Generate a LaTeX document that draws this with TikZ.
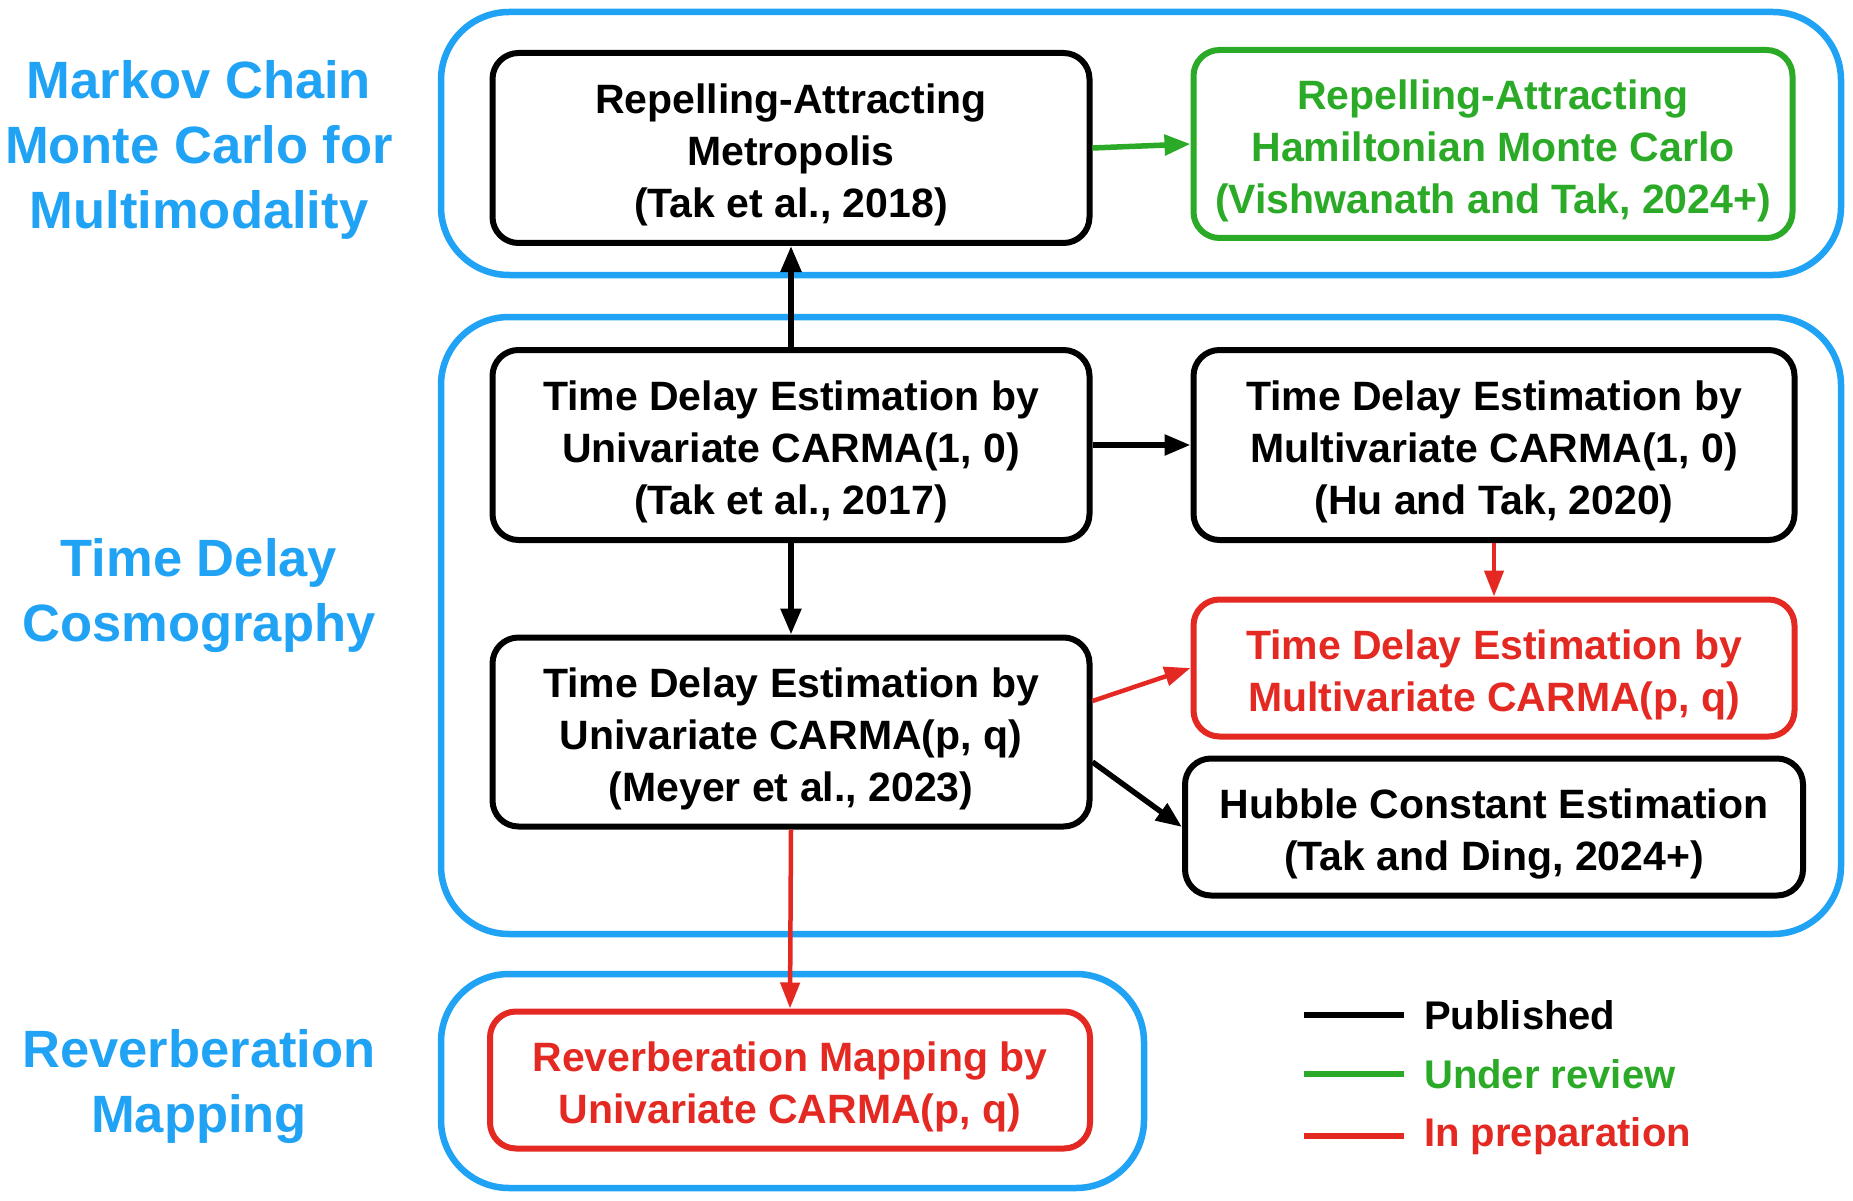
\documentclass[tikz,border=0pt]{standalone}
\usepackage{fontspec}
\setmainfont{Liberation Sans}
\usetikzlibrary{arrows.meta}
\definecolor{cblue}{RGB}{32,162,245}
\definecolor{cgreen}{RGB}{42,170,38}
\definecolor{cred}{RGB}{228,40,34}
\newcommand\topstrut{\rule{0pt}{44pt}}
\begin{document}
\begin{tikzpicture}[x=1pt,y=-1pt,
  container/.style={draw=cblue,line width=6.5pt,rounded corners=68pt},
  boxnode/.style={draw,line width=6pt,rounded corners=26pt,align=center,inner sep=0pt,
     font=\fontsize{41}{52}\selectfont\bfseries},
  sidelabel/.style={text=cblue,align=center,inner sep=0pt,font=\fontsize{52.5}{65}\selectfont\bfseries},
  legtext/.style={anchor=west,inner sep=0pt,font=\fontsize{40}{46}\selectfont\bfseries},
  blk/.style={draw=black,line width=5.5pt,-{Triangle[length=26pt,width=20pt]}},
  grn/.style={draw=cgreen,line width=5.5pt,-{Triangle[length=26pt,width=20pt]}},
  rd/.style={draw=cred,line width=4.5pt,-{Triangle[length=26pt,width=19pt]}},
]
\useasboundingbox[fill=white] (0,0) rectangle (1853,1201);
% containers
\draw[container] (441,12) rectangle (1841,275);
\draw[container] (441,317) rectangle (1841,934);
\draw[container] (441,974) rectangle (1144,1188);
% side labels
\node[sidelabel] (lab1) at (199,150) {Markov Chain\\Monte Carlo for\\Multimodality};
\node[sidelabel] (lab2) at (199,596) {Time Delay\\Cosmography};
\node[sidelabel] (lab3) at (199,1087) {Reverberation\\Mapping};
% boxes
\node[boxnode,minimum width=597pt,minimum height=190pt] (ram) at (791,148) {\topstrut Repelling-Attracting\\Metropolis\\(Tak et al., 2018)};
\node[boxnode,draw=cgreen,text=cgreen,minimum width=599pt,minimum height=188pt] (rahmc) at (1493,144) {\topstrut Repelling-Attracting\\Hamiltonian Monte Carlo\\(Vishwanath and Tak, 2024+)};
\node[boxnode,minimum width=597pt,minimum height=190pt] (uc10) at (791,445) {\topstrut Time Delay Estimation by\\Univariate CARMA(1, 0)\\(Tak et al., 2017)};
\node[boxnode,minimum width=601pt,minimum height=190pt] (mc10) at (1494,445) {\topstrut Time Delay Estimation by\\Multivariate CARMA(1, 0)\\(Hu and Tak, 2020)};
\node[boxnode,draw=cred,text=cred,minimum width=601pt,minimum height=137pt] (mcpq) at (1494,668) {\topstrut Time Delay Estimation by\\Multivariate CARMA(p, q)};
\node[boxnode,minimum width=597pt,minimum height=189pt] (ucpq) at (791,732) {\topstrut Time Delay Estimation by\\Univariate CARMA(p, q)\\(Meyer et al., 2023)};
\node[boxnode,minimum width=618pt,minimum height=137pt] (hub) at (1494,827) {\topstrut Hubble Constant Estimation\\(Tak and Ding, 2024+)};
\node[boxnode,draw=cred,text=cred,minimum width=600pt,minimum height=137pt] (rm) at (790,1080) {\topstrut Reverberation Mapping by\\Univariate CARMA(p, q)};
% connectors
\draw[blk] (uc10.north) -- (ram.south);
\draw[grn] (ram.east) -- (rahmc.west);
\draw[blk] (uc10.east) -- (mc10.west);
\draw[blk] (uc10.south) -- (ucpq.south |- ucpq.north);
\draw[rd] (mc10.south) -- (mcpq.north);
\draw[rd] ([yshift=31pt]ucpq.east) -- (mcpq.west);
\draw[blk] ([yshift=-30pt]ucpq.east) -- (hub.west);
\draw[rd] (ucpq.south) -- (rm.north);
% legend
\coordinate (l1a) at (1304,1015); \coordinate (l1b) at (1404,1015);
\coordinate (l2a) at (1304,1074); \coordinate (l2b) at (1404,1074);
\coordinate (l3a) at (1304,1136); \coordinate (l3b) at (1404,1136);
\draw[line width=6pt,black] (l1a) -- (l1b);
\draw[line width=6pt,cgreen] (l2a) -- (l2b);
\draw[line width=6pt,cred] (l3a) -- (l3b);
\node[legtext] (leg1) at (1424,1015) {Published};
\node[legtext,text=cgreen] (leg2) at (1424,1074) {Under review};
\node[legtext,text=cred] (leg3) at (1424,1136) {In preparation};
\end{tikzpicture}
\end{document}
